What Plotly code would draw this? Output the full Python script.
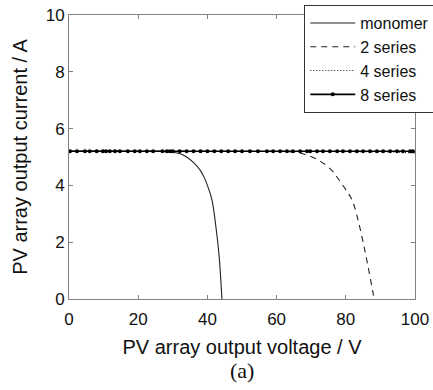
import plotly.graph_objects as go

# monomer I-V curve
v_mono = [0, 10, 20, 25, 28, 30, 32, 34, 36, 37.9, 39, 40, 41.3, 42.5, 43.4, 44.2]
i_mono = [5.2, 5.2, 5.2, 5.2, 5.19, 5.17, 5.12, 5.0, 4.8, 4.54, 4.3, 4.0, 3.5, 2.5, 1.5, 0.0]

# 2 series
v_two = [0, 20, 40, 55, 60, 64.7, 68, 72, 75.8, 78, 80, 81.8, 83.5, 85, 86.5, 87.9, 88.2]
i_two = [5.2, 5.2, 5.2, 5.2, 5.2, 5.18, 5.1, 4.9, 4.55, 4.2, 3.85, 3.49, 2.8, 2.0, 1.1, 0.2, 0.0]

# 4 series
v_four = [0, 20, 40, 60, 80, 90, 95, 100]
i_four = [5.2, 5.2, 5.2, 5.2, 5.2, 5.19, 5.17, 5.14]

# 8 series
v_eight = [0.3, 2.3, 4.6, 6, 8, 9.8, 10.7, 11.8, 13.3, 14.7, 17, 19, 20.5, 22.5, 24.3, 27,
           28.3, 29.2, 30, 32, 34, 36, 38, 40, 42, 44, 46, 48, 50, 52.3, 54.6, 57.2, 59, 61,
           63, 64.7, 66.8, 68.8, 69.7, 71.7, 73.4, 75.4, 77.5, 79.2, 81.2, 83.2, 85, 87, 89,
           90.8, 92.8, 94.8, 96.5, 98.6, 99.4]
i_eight = [5.2] * len(v_eight)

names = ["monomer", "2 series", "4 series", "8 series"]
x_ticks = [0, 20, 40, 60, 80, 100]
y_ticks = [0, 2, 4, 6, 8, 10]

line_col = "#222222"
axis_col = "#808080"

fig = go.Figure()
fig.add_trace(go.Scatter(x=v_mono, y=i_mono, mode="lines", name=names[0],
                         line=dict(color=line_col, width=1.1, shape="spline")))
fig.add_trace(go.Scatter(x=v_two, y=i_two, mode="lines", name=names[1],
                         line=dict(color=line_col, width=1.1, dash="6px,5px", shape="spline")))
fig.add_trace(go.Scatter(x=v_four, y=i_four, mode="lines", name=names[2],
                         line=dict(color=line_col, width=1.1, dash="1px,2px")))
fig.add_trace(go.Scatter(x=v_eight, y=i_eight, mode="lines+markers", name=names[3],
                         line=dict(color="#000000", width=1.6),
                         marker=dict(color="#000000", size=4)))

fig.update_layout(
    width=433, height=390,
    margin=dict(l=69, r=18, t=15, b=91, autoexpand=False),
    paper_bgcolor="white", plot_bgcolor="white",
    font=dict(family="Liberation Sans, Arial, sans-serif", size=17, color="#111111"),
    showlegend=True,
    legend=dict(x=0.68, y=1.035, xanchor="left", yanchor="top",
                bgcolor="white", bordercolor="#333333", borderwidth=1,
                font=dict(size=16), tracegroupgap=0, itemwidth=45),
    xaxis=dict(range=[0, 100], tickvals=x_ticks, ticks="inside", ticklen=4,
               tickcolor=axis_col, showline=True, linecolor=axis_col, linewidth=1,
               mirror="ticks", showgrid=False, zeroline=False, ticklabelstandoff=5,
               title=dict(text="PV array output voltage / V", standoff=11)),
    yaxis=dict(range=[0, 10], tickvals=y_ticks, ticks="inside", ticklen=4,
               tickcolor=axis_col, showline=True, linecolor=axis_col, linewidth=1,
               mirror="ticks", showgrid=False, zeroline=False,
               title=dict(text="PV array output current / A", standoff=12)),
    annotations=[dict(text="(a)", x=0.5, y=-0.25, xref="paper", yref="paper",
                      xanchor="center", yanchor="middle", showarrow=False,
                      font=dict(family="Liberation Serif, Times New Roman, serif", size=22,
                                color="#111111"))],
)

fig.write_html("out.html", config={"displayModeBar": False},
               post_script="document.body.style.margin='0px';")
